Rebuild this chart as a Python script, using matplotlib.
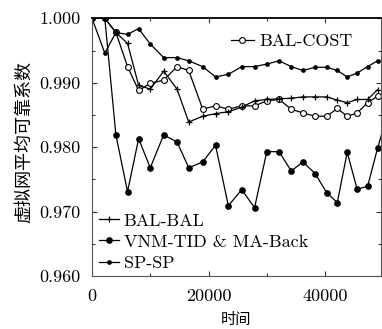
import matplotlib
matplotlib.use("Agg")
import matplotlib.pyplot as plt
from matplotlib.ticker import MultipleLocator, FormatStrFormatter

plt.rcParams['font.family'] = ['cmr10', 'DejaVu Serif']
plt.rcParams['axes.formatter.use_mathtext'] = True

# time points
t = [0, 2200, 4100, 6100, 8000, 10000, 12300, 14600, 16600, 19000, 21200,
     23400, 25700, 27900, 30000, 32100, 34200, 36200, 38300, 40300, 42100,
     43800, 45500, 47300, 49000]
t_vnm = t + [50800]

bal_cost = [1.000, 1.000, 0.9978, 0.9925, 0.9888, 0.9899, 0.9904, 0.9925,
            0.9919, 0.9859, 0.9864, 0.9859, 0.9864, 0.9864, 0.9872, 0.9874,
            0.9859, 0.9853, 0.9848, 0.9848, 0.9860, 0.9848, 0.9853, 0.9869,
            0.9879]
bal_bal = [1.000, 1.000, 0.9978, 0.9961, 0.9896, 0.9890, 0.9918, 0.9890,
           0.9839, 0.9848, 0.9852, 0.9855, 0.9862, 0.9872, 0.9874, 0.9875,
           0.9876, 0.9878, 0.9878, 0.9878, 0.9873, 0.9869, 0.9874, 0.9874,
           0.9889]
vnm_tid = [1.000, 1.000, 0.9819, 0.9731, 0.9813, 0.9768, 0.9819, 0.9808,
           0.9768, 0.9777, 0.9803, 0.9709, 0.9734, 0.9706, 0.9793, 0.9793,
           0.9763, 0.9777, 0.9759, 0.9729, 0.9714, 0.9792, 0.9735, 0.9739,
           0.9798, 0.9854]
sp_sp = [1.000, 0.9946, 0.9978, 0.9975, 0.9984, 0.9960, 0.9939, 0.9939,
         0.9934, 0.9925, 0.9909, 0.9913, 0.9925, 0.9925, 0.9929, 0.9934,
         0.9925, 0.9919, 0.9924, 0.9924, 0.9919, 0.9909, 0.9915, 0.9925,
         0.9934]

fig = plt.figure(figsize=(3.82, 3.29), dpi=100)
ax = fig.add_axes([92 / 382, 1 - 276 / 329, 289 / 382, (276 - 18.3) / 329])

lw = 0.9
l_cost, = ax.plot(t, bal_cost, color='black', lw=lw, marker='o', ms=4.2,
                  mfc='white', mec='black', mew=0.8, label='BAL-COST')
l_bal, = ax.plot(t, bal_bal, color='black', lw=lw, marker='+', ms=5,
                 mew=0.9, label='BAL-BAL')
l_vnm, = ax.plot(t_vnm, vnm_tid, color='black', lw=lw, marker='o', ms=3.8,
                 label='VNM-TID & MA-Back')
l_sp, = ax.plot(t, sp_sp, color='black', lw=lw, marker='o', ms=2.4,
                label='SP-SP')

ax.set_xlim(0, 49600)
ax.set_ylim(0.960, 1.000)
ax.set_xticks([0, 20000, 40000])
ax.xaxis.set_minor_locator(MultipleLocator(10000))
ax.yaxis.set_major_locator(MultipleLocator(0.01))
ax.yaxis.set_minor_locator(MultipleLocator(0.005))
ax.yaxis.set_major_formatter(FormatStrFormatter('%.3f'))
ax.xaxis.set_major_formatter(FormatStrFormatter('%d'))
ax.tick_params(which='both', direction='in', top=True, right=True,
               labelsize=13, width=0.8, color='#333333')
ax.tick_params(which='major', length=3.5)
ax.tick_params(which='minor', length=2.5)
ax.tick_params(axis='y', pad=8)
ax.tick_params(axis='x', pad=9)
for s in ax.spines.values():
    s.set_color('#555555')
    s.set_linewidth(0.8)
ax.spines['top'].set_color('black')
ax.spines['top'].set_linewidth(1.3)

ax.set_xlabel('时间', family=['Noto Sans CJK SC'], fontsize=11, labelpad=5)
ax.set_ylabel('虚拟网平均可靠系数', family=['Noto Sans CJK SC'], fontsize=13)
ax.yaxis.set_label_coords(-0.205, 0.52)

leg1 = ax.legend(handles=[l_cost], loc='upper left',
                 bbox_to_anchor=(0.48, 0.94), frameon=False, fontsize=13,
                 handlelength=1.3, handletextpad=0.3, borderpad=0,
                 borderaxespad=0)
ax.add_artist(leg1)
ax.legend(handles=[l_bal, l_vnm, l_sp], loc='lower left',
          bbox_to_anchor=(0.025, 0.02), frameon=False, fontsize=13,
          handlelength=1.1, handletextpad=0.25, borderpad=0,
          borderaxespad=0, labelspacing=0.3)

fig.savefig('out.png', dpi=100)
